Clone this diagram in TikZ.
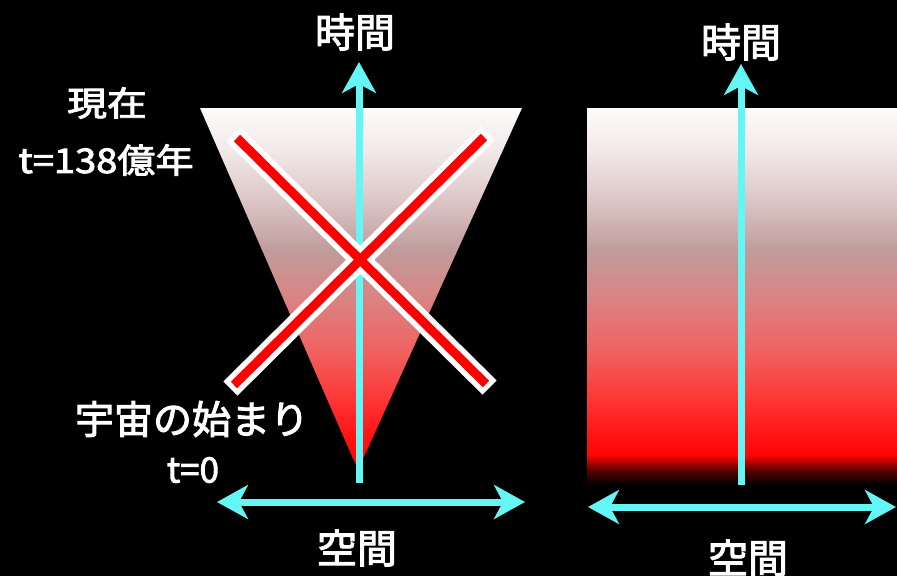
\documentclass[tikz,border=0pt]{standalone}
\usepackage{fontspec}
\newfontfamily\jp{Noto Sans CJK JP}[FakeBold=2.5]
\usetikzlibrary{arrows.meta}
\definecolor{cyanc}{RGB}{100,245,245}
\definecolor{xred}{RGB}{255,0,0}
% gradient colours
\definecolor{g0}{HTML}{000000}
\definecolor{g1}{HTML}{5A0000}
\definecolor{g2}{HTML}{FF0505}
\definecolor{g3}{HTML}{FF1010}
\definecolor{g4}{HTML}{FF3535}
\definecolor{g5}{HTML}{F06262}
\definecolor{g6}{HTML}{DB8282}
\definecolor{g7}{HTML}{C09C9C}
\definecolor{g8}{HTML}{DCC6C6}
\definecolor{g9}{HTML}{F2E9E9}
\definecolor{g10}{HTML}{FDFBFB}
\definecolor{t0}{HTML}{3A0000}
\pgfdeclareverticalshading{rectshade}{100bp}{color(0bp)=(g0); color(25bp)=(g0); color(26.99bp)=(g1); color(28.98bp)=(g2); color(30.97bp)=(g3); color(36.27bp)=(g4); color(42.9bp)=(g5); color(49.5bp)=(g6); color(56.2bp)=(g7); color(62.8bp)=(g8); color(69.4bp)=(g9); color(75bp)=(g10); color(100bp)=(g10)}
\pgfdeclareverticalshading{trishade}{100bp}{color(0bp)=(t0); color(25bp)=(t0); color(26.5bp)=(g2); color(29.14bp)=(g3); color(34.67bp)=(g4); color(41.57bp)=(g5); color(48.48bp)=(g6); color(55.39bp)=(g7); color(62.29bp)=(g8); color(69.2bp)=(g9); color(75bp)=(g10); color(100bp)=(g10)}
\begin{document}
\begin{tikzpicture}[x=1pt,y=-1pt,
  axisarrow/.style={draw=cyanc, line width=7pt, -{Stealth[length=31pt,width=34pt,inset=9pt]}},
  axisarrows/.style={draw=cyanc, line width=7pt, {Stealth[length=31pt,width=34pt,inset=9pt]}-{Stealth[length=31pt,width=34pt,inset=9pt]}},
  lbl/.style={text=white, inner sep=0pt},
  xwhite/.style={draw=white, line width=20pt, shorten <=-5pt, shorten >=-5pt},
  xredline/.style={draw=xred, line width=9pt}]
\fill[black] (0,0) rectangle (897,576);
\useasboundingbox (0,0) rectangle (897,576);
% left panel: light cone triangle
\shade[shading=trishade] (200,108) -- (522,108) -- (358,470) -- cycle;
% left axes
\coordinate (lt0) at (359,483);
\coordinate (lt1) at (359,62);
\coordinate (ls0) at (217,502);
\coordinate (ls1) at (525,502);
\draw[axisarrow] (lt0) -- (lt1);
\draw[axisarrows] (ls0) -- (ls1);
% red cross
\coordinate (xa1) at (237,138);
\coordinate (xa2) at (486,384);
\coordinate (xb1) at (484,137);
\coordinate (xb2) at (234,385);
\draw[xwhite] (xa1) -- (xa2);
\draw[xwhite] (xb1) -- (xb2);
\draw[xredline] (xa1) -- (xa2);
\draw[xredline] (xb1) -- (xb2);
% right panel
\shade[shading=rectshade] (587,108) rectangle (897,485);
\coordinate (rt0) at (741,485);
\coordinate (rt1) at (741,64);
\coordinate (rs0) at (588,507);
\coordinate (rs1) at (896,507);
\draw[axisarrow] (rt0) -- (rt1);
\draw[axisarrows] (rs0) -- (rs1);
% labels
\node[lbl, font=\jp\fontsize{40}{44}\selectfont] (ltime) at (355,32) {時間};
\node[lbl, font=\jp\fontsize{40}{44}\selectfont] (rtime) at (741,42) {時間};
\node[lbl, font=\jp\fontsize{40}{44}\selectfont] (lspace) at (357,548) {空間};
\node[lbl, font=\jp\fontsize{40}{44}\selectfont] (rspace) at (748,558) {空間};
\node[lbl, font=\jp\fontsize{34}{36}\selectfont, xscale=1.17] (now) at (107,103) {現在};
\node[lbl, font=\jp\fontsize{34}{36}\selectfont, xscale=1.12] (nowt) at (106,160) {t=138億年};
\node[lbl, font=\jp\fontsize{39}{42}\selectfont] (begin) at (192,419) {宇宙の始まり};
\node[lbl, font=\jp\fontsize{35}{38}\selectfont] (begint) at (193,470) {t=0};
\end{tikzpicture}
\end{document}
